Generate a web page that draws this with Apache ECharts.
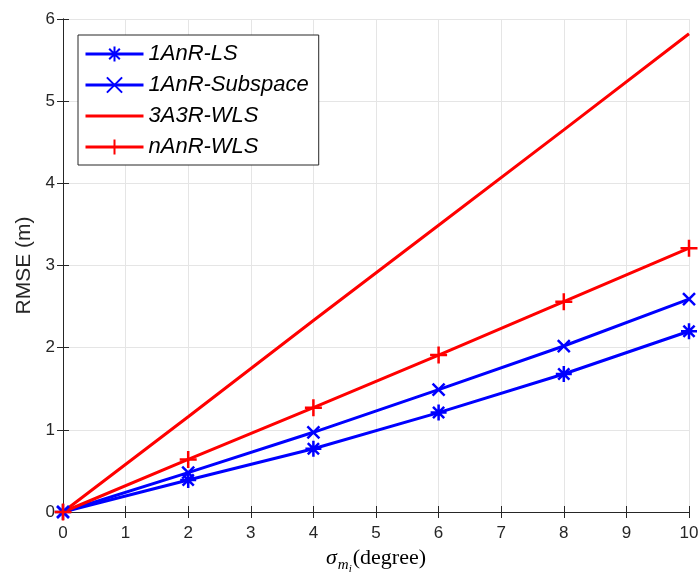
<!DOCTYPE html>
<html>
<head>
<meta charset="utf-8">
<script src="https://cdn.jsdelivr.net/npm/echarts@6/dist/echarts.min.js"></script>
<style>
  html, body { margin: 0; padding: 0; background: #fff; }
  #chart { width: 699px; height: 572px; }
</style>
</head>
<body>
<div id="chart"></div>
<script>
// 数据
const sigmaList = [0, 2, 4, 6, 8, 10];
const ls1AnR = [0, 0.39, 0.77, 1.21, 1.68, 2.20];
const subspace1AnR = [0, 0.48, 0.97, 1.49, 2.02, 2.59];
const wls3A3R = [0, 1.16, 2.33, 3.49, 4.65, 5.82];
const wlsnAnR = [0, 0.64, 1.27, 1.91, 2.56, 3.21];
const nameList = ['1AnR-LS', '1AnR-Subspace', '3A3R-WLS', 'nAnR-WLS'];

const axisColor = '#262626';
const gridColor = '#e5e5e5';
const blue = '#0000ff';
const red = '#ff0000';
const tickFont = '"Liberation Sans Narrow", "Liberation Sans", Arial, sans-serif';
const textFont = '"Liberation Sans", Arial, sans-serif';

// 标记形状
const asterisk = 'path://M0,-1L0,1M-1,0L1,0M-0.7,-0.7L0.7,0.7M-0.7,0.7L0.7,-0.7';
const cross = 'path://M-1,-1L1,1M-1,1L1,-1';
const plus = 'path://M0,-1L0,1M-1,0L1,0';
const plainLine = 'path://M0,0L20,0L20,1L0,1Z';

const pairs = (ys) => sigmaList.map((x, i) => [x, ys[i]]);

const makeSeries = (name, data, color, symbol, size) => ({
  name: name,
  type: 'line',
  data: pairs(data),
  symbol: symbol || 'none',
  showSymbol: !!symbol,
  symbolSize: size,
  symbolKeepAspect: true,
  lineStyle: { color: color, width: 3 },
  itemStyle: { color: color, borderColor: color, borderWidth: 2.5 },
  emphasis: { disabled: true },
  z: 3,
});

const chart = echarts.init(document.getElementById('chart'));

const option = {
  animation: false,
  grid: { left: 63, right: 10, top: 19, bottom: 60, outerBoundsMode: 'none' },
  legend: {
    orient: 'vertical',
    left: 78,
    top: 35,
    padding: [8, 10, 7, 6],
    itemGap: 9,
    itemWidth: 58,
    itemHeight: 19,
    backgroundColor: '#fff',
    borderColor: axisColor,
    borderWidth: 1,
    borderRadius: 0,
    lineStyle: { width: 3 },
    textStyle: {
      fontFamily: textFont,
      fontStyle: 'italic',
      fontSize: 22,
      color: '#000',
    },
    data: [
      { name: nameList[0] },
      { name: nameList[1] },
      { name: nameList[2], icon: plainLine, itemStyle: { borderWidth: 0 } },
      { name: nameList[3] },
    ],
  },
  xAxis: [
    {
      type: 'value',
      min: 0,
      max: 10,
      interval: 1,
      name: '{s|σ}{m|m}{i|i}{d|(degree)}',
      nameLocation: 'middle',
      nameGap: 26,
      nameTextStyle: {
        rich: {
          s: { fontFamily: '"Liberation Serif", serif', fontStyle: 'italic', fontSize: 22, color: '#000', verticalAlign: 'bottom', padding: [0, 1, 6, 0] },
          m: { fontFamily: '"Liberation Serif", serif', fontStyle: 'italic', fontSize: 15, color: '#000', verticalAlign: 'bottom', padding: [0, 0, 2, 0] },
          i: { fontFamily: '"Liberation Serif", serif', fontStyle: 'italic', fontSize: 11, color: '#000', verticalAlign: 'bottom', padding: [0, 1, 0, 0] },
          d: { fontFamily: '"Liberation Serif", serif', fontSize: 22, color: '#000', verticalAlign: 'bottom', padding: [0, 0, 6, 0] },
        },
      },
      axisLine: { lineStyle: { color: axisColor, width: 1 } },
      axisTick: { inside: true, length: 6, lineStyle: { color: axisColor } },
      axisLabel: { color: axisColor, fontFamily: tickFont, fontSize: 17, margin: 13 },
      splitLine: { show: true, lineStyle: { color: gridColor, width: 1 } },
    },
    {
      type: 'value',
      position: 'top',
      min: 0,
      max: 10,
      interval: 1,
      axisLine: { show: true, lineStyle: { color: axisColor, width: 1 } },
      axisTick: { show: true, inside: true, length: 6, lineStyle: { color: axisColor } },
      axisLabel: { show: false },
      splitLine: { show: false },
    },
  ],
  yAxis: [
    {
      type: 'value',
      min: 0,
      max: 6,
      interval: 1,
      name: 'RMSE (m)',
      nameLocation: 'middle',
      nameGap: 27,
      nameTextStyle: { fontFamily: textFont, fontSize: 21, color: axisColor },
      axisLine: { show: true, lineStyle: { color: axisColor, width: 1 } },
      axisTick: { show: true, inside: true, length: 6, lineStyle: { color: axisColor } },
      axisLabel: { color: axisColor, fontFamily: tickFont, fontSize: 17, margin: 8 },
      splitLine: { show: true, lineStyle: { color: gridColor, width: 1 } },
    },
    {
      type: 'value',
      position: 'right',
      min: 0,
      max: 6,
      interval: 1,
      axisLine: { show: true, lineStyle: { color: axisColor, width: 1 } },
      axisTick: { show: true, inside: true, length: 6, lineStyle: { color: axisColor } },
      axisLabel: { show: false },
      splitLine: { show: false },
    },
  ],
  series: [
    makeSeries(nameList[0], ls1AnR, blue, asterisk, 16),
    makeSeries(nameList[1], subspace1AnR, blue, cross, 12),
    makeSeries(nameList[2], wls3A3R, red, null, 0),
    makeSeries(nameList[3], wlsnAnR, red, plus, 17),
  ],
};

chart.setOption(option);
</script>
</body>
</html>
